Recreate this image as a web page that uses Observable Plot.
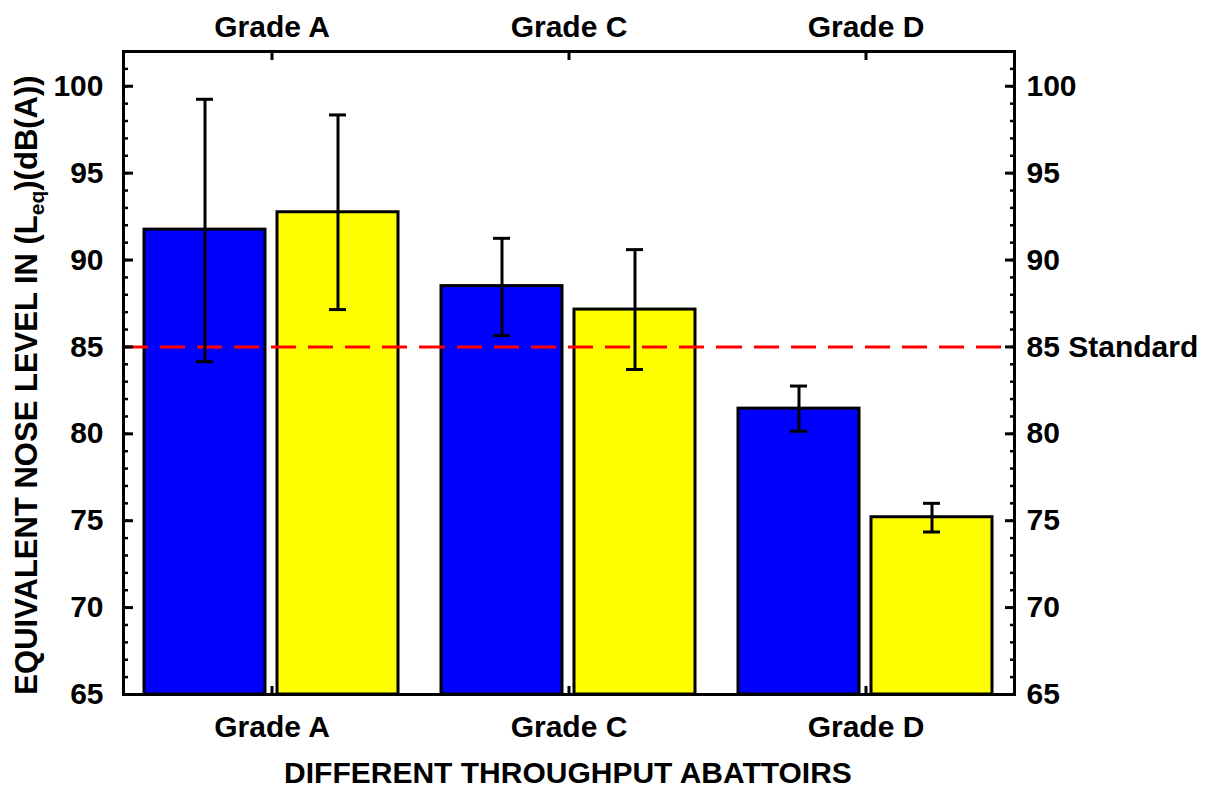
<!DOCTYPE html>
<html><head><meta charset="utf-8">
<script src="https://cdn.jsdelivr.net/npm/d3@7"></script>
<script src="https://cdn.jsdelivr.net/npm/@observablehq/plot@0.6"></script>
<style>
body{margin:0;background:#fff}
#chart svg{font-family:"Liberation Sans",Arial,sans-serif;font-weight:bold}
</style>
</head><body><div id="chart"></div>
<script>
const groups = ["Grade A", "Grade C", "Grade D"];
const series = ["blue", "yellow"];
const blueMean   = [91.75, 88.5, 81.45];
const blueLow    = [84.15, 85.65, 80.15];
const blueHigh   = [99.25, 91.25, 82.75];
const yellowMean = [92.75, 87.15, 75.2];
const yellowLow  = [87.15, 83.7, 74.35];
const yellowHigh = [98.35, 90.6, 76.0];
const standard = 85;
const yMajor = [65, 70, 75, 80, 85, 90, 95, 100];
const yMinor = d3.range(65, 103);

const rows = groups.flatMap((g, i) => [
  {group: g, s: "blue", mean: blueMean[i], lo: blueLow[i], hi: blueHigh[i]},
  {group: g, s: "yellow", mean: yellowMean[i], lo: yellowLow[i], hi: yellowHigh[i]}
]);

const fmt = d => d === standard ? `${d} Standard` : String(d);

const chart = Plot.plot({
  width: 1211, height: 790,
  marginLeft: 122, marginRight: 196, marginTop: 51, marginBottom: 96,
  style: {fontSize: "30px", fontWeight: "bold", fontFamily: "'Liberation Sans', Arial, sans-serif", background: "white", color: "black"},
  fx: {domain: groups, paddingInner: 0, paddingOuter: 0, axis: null, label: null},
  x: {domain: series, paddingInner: 0.0896, paddingOuter: 0.1556, axis: null},
  y: {domain: [65, 102], axis: null},
  color: {domain: series, range: ["#0000ff", "#ffff00"]},
  marks: [
    Plot.barY(rows, {fx: "group", x: "s", y1: 65, y2: "mean", fill: "s", stroke: "black", strokeWidth: 3}),
    Plot.ruleY([standard], {stroke: "#ff0000", strokeWidth: 3, strokeDasharray: "25 12"}),
    Plot.ruleX(rows, {fx: "group", x: "s", y1: "lo", y2: "hi", stroke: "black", strokeWidth: 3}),
    Plot.tickY(rows, {fx: "group", x: "s", y: "lo", stroke: "black", strokeWidth: 3, insetLeft: 52, insetRight: 52}),
    Plot.tickY(rows, {fx: "group", x: "s", y: "hi", stroke: "black", strokeWidth: 3, insetLeft: 52, insetRight: 52}),
    Plot.ruleY([65, 102], {stroke: "black", strokeWidth: 3}),
    Plot.frame({anchor: "left", facetAnchor: "left", stroke: "black", strokeWidth: 3}),
    Plot.frame({anchor: "right", facetAnchor: "right", stroke: "black", strokeWidth: 3}),
    Plot.axisY(yMinor, {anchor: "left", tickSize: -5, fill: "none", label: null, strokeWidth: 2.5}),
    Plot.axisY(yMajor, {anchor: "left", tickSize: -10, fill: "none", label: null, strokeWidth: 3}),
    Plot.axisY(yMinor, {anchor: "right", tickSize: -5, fill: "none", label: null, strokeWidth: 2.5}),
    Plot.axisY(yMajor, {anchor: "right", tickSize: -10, fill: "none", label: null, strokeWidth: 3}),
    Plot.axisY(yMajor, {anchor: "left", tickSize: 0, tickPadding: 20, label: null, fill: "black"}),
    Plot.axisY(yMajor, {anchor: "right", tickSize: 0, tickPadding: 12, label: null, fill: "black", tickFormat: fmt}),
    Plot.axisFx({anchor: "top", tickSize: -8, fill: "none", label: null, strokeWidth: 3}),
    Plot.axisFx({anchor: "bottom", tickSize: -8, fill: "none", label: null, strokeWidth: 3}),
    Plot.axisFx({anchor: "top", tickSize: 0, tickPadding: 15, label: null, fill: "black"}),
    Plot.axisFx({anchor: "bottom", tickSize: 0, tickPadding: 21, label: null, fill: "black"})
  ]
});

const svg = d3.select(chart);
svg.append("text")
  .attr("x", 568).attr("y", 783)
  .attr("text-anchor", "middle")
  .attr("font-size", 30).attr("font-weight", "bold").attr("fill", "black")
  .text("DIFFERENT THROUGHPUT ABATTOIRS");

const yt = svg.append("text")
  .attr("transform", "translate(37,385) rotate(-90)")
  .attr("text-anchor", "middle")
  .attr("font-size", 31).attr("font-weight", "bold").attr("fill", "black");
yt.append("tspan").text("EQUIVALENT NOSE LEVEL IN (L");
yt.append("tspan").attr("font-size", 21).attr("dy", 7).text("eq");
yt.append("tspan").attr("dy", -7).text(")(dB(A))");

document.getElementById("chart").append(chart);
</script>
</body></html>
